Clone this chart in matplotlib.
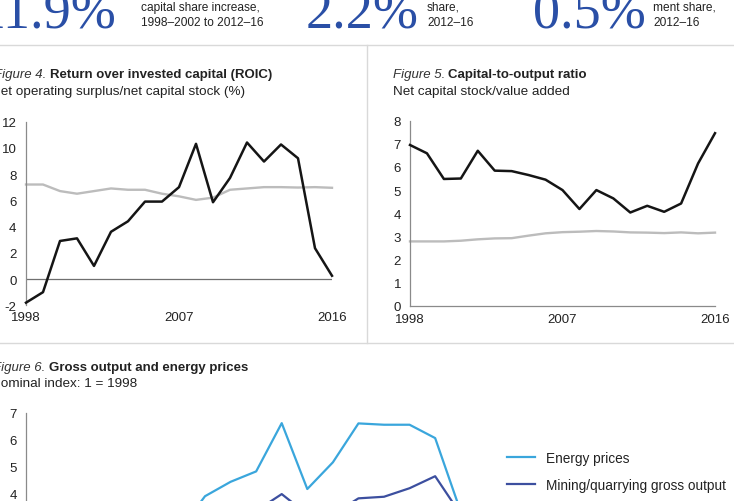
import matplotlib
matplotlib.use("Agg")
import matplotlib.pyplot as plt
from matplotlib.lines import Line2D

W, H = 734, 502
plt.rcParams["font.family"] = ["Liberation Sans", "DejaVu Sans"]
plt.rcParams["axes.unicode_minus"] = False

years = list(range(1998, 2017))
year_ticks = [1998, 2007, 2016]

# Figure 4: ROIC (%)
roic_mining = [-1.8, -1.0, 2.9, 3.1, 1.0, 3.6, 4.4, 5.9, 5.9, 7.0, 10.3,
               5.85, 7.7, 10.4, 8.95, 10.25, 9.2, 2.35, 0.25]
roic_total = [7.2, 7.2, 6.7, 6.5, 6.7, 6.9, 6.8, 6.8, 6.5, 6.3, 6.03,
              6.2, 6.8, 6.9, 7.0, 7.0, 6.97, 7.0, 6.95]

# Figure 5: capital-to-output ratio
kto_mining = [6.95, 6.59, 5.48, 5.5, 6.7, 5.84, 5.82, 5.65, 5.45, 5.0, 4.18,
              5.0, 4.64, 4.03, 4.32, 4.06, 4.42, 6.15, 7.46]
kto_total = [2.78, 2.78, 2.78, 2.81, 2.87, 2.91, 2.92, 3.03, 3.13, 3.18, 3.2,
             3.23, 3.21, 3.17, 3.16, 3.14, 3.17, 3.13, 3.16]

# Figure 6: nominal index, 1 = 1998
energy_prices = [1.0, 1.2, 1.8, 1.7, 1.8, 2.1, 2.6, 3.88, 4.42, 4.81, 6.62,
                 4.15, 5.15, 6.61, 6.56, 6.56, 6.06, 3.3, 2.6]
mining_output = [1.0, 1.1, 1.5, 1.6, 1.7, 2.0, 2.4, 2.9, 3.2, 3.33, 3.96,
                 3.2, 3.2, 3.8, 3.86, 4.18, 4.63, 3.2, 2.7]

header_values = ["11.9%", "2.2%", "0.5%"]
header_notes = [("capital share increase,", "1998\u20132002 to 2012\u201316"),
                ("share,", "2012\u201316"),
                ("ment share,", "2012\u201316")]

BLUE_HEAD = "#2a4fa6"
LIGHT_BLUE = "#3aa6dc"
DARK_BLUE = "#3c4f9f"
BLACK = "#151515"
GREY = "#bcbcbc"
AXIS = "#8a8a8a"
TXT = "#222222"

fig = plt.figure(figsize=(W / 100, H / 100), dpi=100)


def fx(x):
    return x / W


def fy(y):
    return 1 - y / H


def px_axes(x0, y0, x1, y1):
    return fig.add_axes([fx(x0), fy(y1), (x1 - x0) / W, (y1 - y0) / H])


def rich_text(x, y, parts, gap=3.5):
    r = fig.canvas.get_renderer()
    for s, kw in parts:
        t = fig.text(fx(x), fy(y), s, va="center", ha="left", **kw)
        bb = t.get_window_extent(renderer=r)
        x = bb.x1 + gap


def style(ax, yticks, ylim, ypad, xpad, bottom=False):
    ax.set_xlim(1998, 2016)
    ax.set_ylim(*ylim)
    for side in ("top", "right"):
        ax.spines[side].set_visible(False)
    ax.spines["bottom"].set_visible(bottom)
    for side in ("left", "bottom"):
        ax.spines[side].set_color(AXIS)
        ax.spines[side].set_linewidth(0.9)
    ax.set_yticks(yticks)
    ax.set_xticks(year_ticks)
    ax.tick_params(axis="y", length=0, pad=ypad, labelsize=9.5, labelcolor=TXT)
    ax.tick_params(axis="x", length=0, pad=xpad, labelsize=9.5, labelcolor=TXT)
    ax.patch.set_alpha(0)


# header
for val, x_end in zip(header_values, [116, 419, 646]):
    fig.text(fx(x_end), fy(27.5), val, ha="right", va="baseline",
             family="Liberation Serif", fontsize=39, color=BLUE_HEAD)
for (l1, l2), x0 in zip(header_notes, [141, 427, 653]):
    fig.text(fx(x0), fy(8), l1, ha="left", va="center", fontsize=8.6, color=TXT)
    fig.text(fx(x0), fy(22.5), l2, ha="left", va="center", fontsize=8.6, color=TXT)

# separators
sep = dict(color="#d9d9d9", lw=1.0, transform=fig.transFigure)
fig.add_artist(Line2D([0, 1], [fy(45.5), fy(45.5)], **sep))
fig.add_artist(Line2D([0, 1], [fy(344), fy(344)], **sep))
fig.add_artist(Line2D([fx(367), fx(367)], [fy(45.5), fy(344)], **sep))

# titles
rich_text(-6, 75, [("Figure 4.", dict(style="italic", fontsize=9.5, color="#333333")),
                   ("Return over invested capital (ROIC)", dict(weight="bold", fontsize=9.5, color=TXT))])
fig.text(fx(-9), fy(91.5), "Net operating surplus/net capital stock (%)",
         va="center", fontsize=9.7, color=TXT)
rich_text(392.5, 75, [("Figure 5.", dict(style="italic", fontsize=9.5, color="#333333")),
                      ("Capital-to-output ratio", dict(weight="bold", fontsize=9.5, color=TXT))])
fig.text(fx(392.5), fy(91.5), "Net capital stock/value added",
         va="center", fontsize=9.7, color=TXT)
rich_text(-7, 368, [("Figure 6.", dict(style="italic", fontsize=9.5, color="#333333")),
                    ("Gross output and energy prices", dict(weight="bold", fontsize=9.5, color=TXT))])
fig.text(fx(-9), fy(384.5), "Nominal index: 1 = 1998",
         va="center", fontsize=9.7, color=TXT)

# Figure 4
ax4 = px_axes(26, 122.5, 332, 306.3)
style(ax4, range(-2, 13, 2), (-2, 12), ypad=6.8, xpad=4)
ax4.axhline(0, color="#6f6f6f", lw=0.9, zorder=1)
ax4.plot(years, roic_total, color=GREY, lw=1.7, clip_on=False, zorder=2)
ax4.plot(years, roic_mining, color=BLACK, lw=1.8, clip_on=False, zorder=3)

# Figure 5
ax5 = px_axes(410, 121.7, 715, 306.7)
style(ax5, range(0, 9), (0, 8), ypad=6.5, xpad=5.5, bottom=True)
ax5.plot(years, kto_total, color=GREY, lw=1.7, clip_on=False, zorder=2)
ax5.plot(years, kto_mining, color=BLACK, lw=1.8, clip_on=False, zorder=3)

# Figure 6 (lower part runs past the bottom edge of the page)
ax6 = px_axes(26, 414, 486.3, 600.7)
style(ax6, range(4, 8), (0, 7), ypad=6.5, xpad=4)
ax6.set_xticklabels([])
l1, = ax6.plot(years, energy_prices, color=LIGHT_BLUE, lw=1.6, label="Energy prices")
l2, = ax6.plot(years, mining_output, color=DARK_BLUE, lw=1.6,
               label="Mining/quarrying gross output")
fig.legend(handles=[l1, l2], loc="upper left", bbox_to_anchor=(fx(507), fy(452)),
           frameon=False, fontsize=9.8, borderpad=0, borderaxespad=0,
           handlelength=2.05, handletextpad=0.8, labelspacing=0.95,
           labelcolor=TXT)

fig.savefig("out.png", dpi=100)
